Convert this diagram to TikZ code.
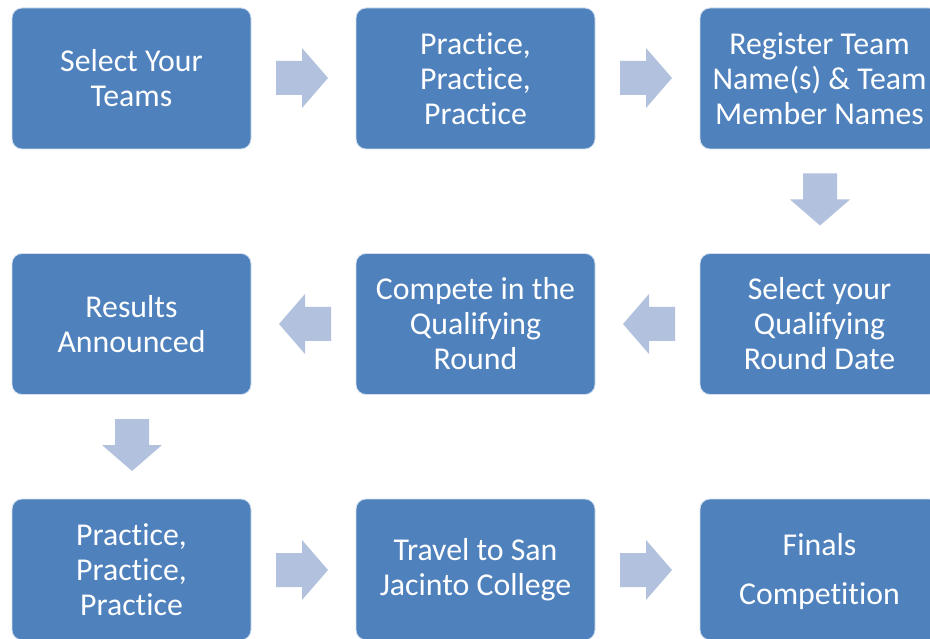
\documentclass[tikz,border=0pt]{standalone}
\usepackage{fontspec}
\setmainfont{Carlito}[Ligatures=NoCommon]
\definecolor{boxblue}{HTML}{4F81BD}
\definecolor{arrowblue}{HTML}{B2C1DD}
\tikzset{
  stepbox/.style={draw=white!75!boxblue, line width=0.8pt, fill=boxblue, rounded corners=10pt,
    minimum width=239pt, minimum height=141pt, text=white,
    font=\fontsize{31.8}{35}\selectfont, align=center, inner sep=0pt},
  steptext/.style={text=white, font=\fontsize{31.8}{35}\selectfont, align=center, inner sep=0pt},
  blockarrow/.pic={\fill[arrowblue] (-26,-17) -- (0,-17) -- (0,-30) -- (26,0) -- (0,30) -- (0,17) -- (-26,17) -- cycle;}
}
\begin{document}
\begin{tikzpicture}[x=1pt,y=-1pt]
\useasboundingbox (0,0) rectangle (930,639);
\clip (0,0) rectangle (930,639);
% row 1
\node[stepbox] (b1) at (131.5,78.5) {Select Your\\Teams};
\node[stepbox] (b2) at (475.5,78.5) {Practice,\\Practice,\\Practice};
\node[stepbox] (b3) at (819.5,78.5) {Register Team\\Name(s) \& Team\\Member Names};
% row 2
\node[stepbox] (b4) at (819.5,324) {Select your\\Qualifying\\Round Date};
\node[stepbox] (b5) at (475.5,324) {Compete in the\\Qualifying\\Round};
\node[stepbox] (b6) at (131.5,324) {Results\\Announced};
% row 3
\node[stepbox] (b7) at (131.5,569.5) {Practice,\\Practice,\\Practice};
\node[stepbox] (b8) at (475.5,569.5) {Travel to San\\Jacinto College};
\node[stepbox] (b9) at (819.5,569.5) {};
\node[steptext] (b9t) at ([yshift=-2pt]b9.center) {Finals\\[14pt]Competition};
% arrows
\pic at (302,78) {blockarrow};
\pic at (646,78) {blockarrow};
\pic[rotate=-90] at (820,199.5) {blockarrow};
\pic[rotate=180] at (649,324) {blockarrow};
\pic[rotate=180] at (305,324) {blockarrow};
\pic[rotate=-90] at (132,445) {blockarrow};
\pic at (302,570) {blockarrow};
\pic at (646,570) {blockarrow};
\end{tikzpicture}
\end{document}
